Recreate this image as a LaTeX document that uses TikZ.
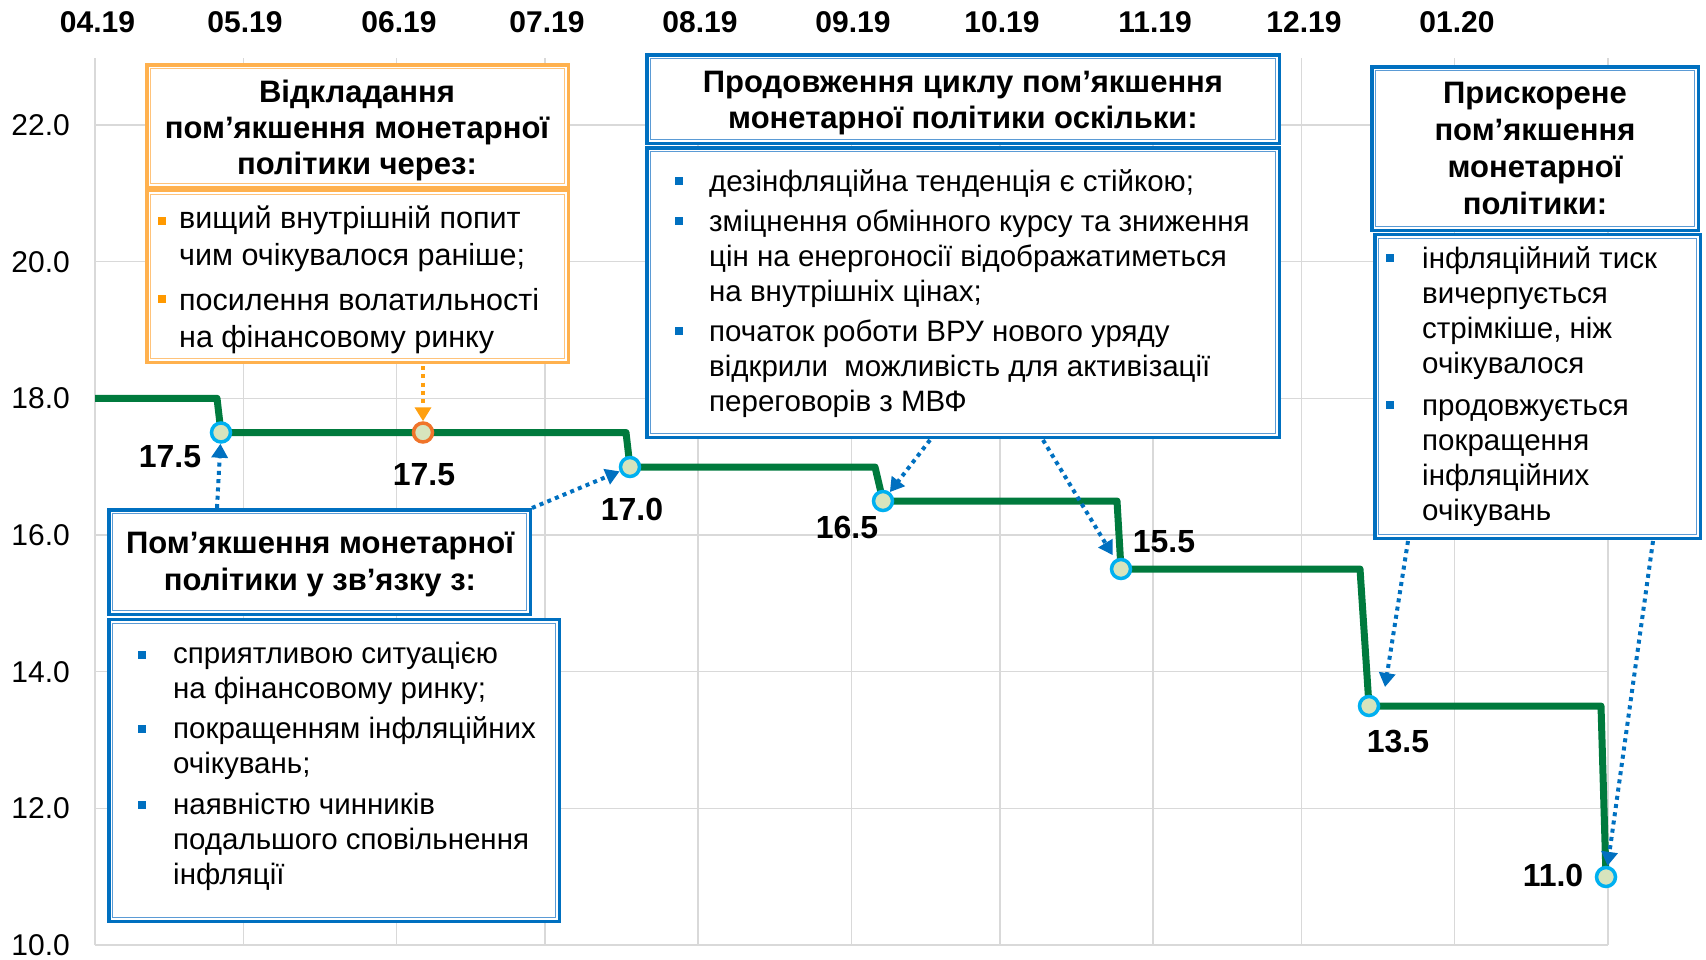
\documentclass[tikz,border=0pt]{standalone}
\usepackage{fontspec}
\setmainfont{Liberation Sans}
\usetikzlibrary{arrows.meta}
\definecolor{cGrid}{HTML}{D9D9D9}
\definecolor{cGreen}{HTML}{007A3D}
\definecolor{cCyan}{HTML}{00B0F0}
\definecolor{cDotFill}{HTML}{D7E4BD}
\definecolor{cBlue}{HTML}{0070C0}
\definecolor{cBlueIn}{HTML}{5B9BD5}
\definecolor{cOrange}{HTML}{FFB14E}
\definecolor{cOrangeIn}{HTML}{FFC37A}
\definecolor{cOrBullet}{HTML}{FF9900}
\definecolor{cOrArrow}{HTML}{FFA010}
\definecolor{cOrDot}{HTML}{F0742A}
\newcommand{\innerframe}[2]{\draw[#2] ([shift={(4bp,-4bp)}]#1.north west) rectangle ([shift={(-4bp,4bp)}]#1.south east);}
\newcommand{\fs}{\rule{0pt}{1em}}
\begin{document}
\begin{tikzpicture}[x=1bp,y=-1bp,
  gridline/.style={draw=cGrid, line width=1.5bp},
  ylab/.style={anchor=east, inner sep=0, font=\fontsize{30bp}{34bp}\selectfont},
  mlab/.style={inner sep=0, font=\bfseries\fontsize{30bp}{34bp}\selectfont},
  vlab/.style={inner sep=0, font=\bfseries\fontsize{32bp}{36bp}\selectfont},
  rate/.style={draw=cGreen, line width=7bp, line join=round},
  dot/.style={circle, draw=#1, line width=3.5bp, fill=cDotFill, minimum size=19bp, inner sep=0},
  bbox/.style={draw=cBlue, line width=3.5bp, fill=white, inner sep=0, outer sep=0, anchor=north west},
  obox/.style={draw=cOrange, line width=3.5bp, fill=white, inner sep=0, outer sep=0, anchor=north west},
  binner/.style={draw=cBlueIn, line width=1.2bp},
  oinner/.style={draw=cOrangeIn, line width=1.2bp},
  hdr/.style={anchor=north, inner sep=0, align=center, font=\bfseries\fontsize{31bp}{36bp}\selectfont},
  body/.style={anchor=north west, inner sep=0, align=left, font=\fontsize{29.5bp}{35bp}\selectfont},
  bsq/.style={fill=#1, minimum size=8bp, inner sep=0},
  darrow/.style={draw=#1, line width=4bp, dash pattern=on 4bp off 4.3bp, -{Triangle[length=14bp,width=16bp]}}
]
\useasboundingbox (0,0) rectangle (1706,959);
% grid
\foreach \gx in {95,243.3,396.6,544.9,698.2,851.4,999.8,1153.0,1301.4,1454.6,1607.9}
  \draw[gridline] (\gx,58) -- (\gx,945);
\foreach \gy in {945,808.3,671.7,535,398.3,261.7,125}
  \draw[gridline] (95,\gy) -- (1608,\gy);
% axis labels
\node[ylab] (y10) at (70,945) {10.0};
\node[ylab] (y12) at (70,808.3) {12.0};
\node[ylab] (y14) at (70,671.7) {14.0};
\node[ylab] (y16) at (70,535) {16.0};
\node[ylab] (y18) at (70,398.3) {18.0};
\node[ylab] (y20) at (70,261.7) {20.0};
\node[ylab] (y22) at (70,125) {22.0};
\node[mlab] (m1) at (97.5,22.5) {04.19};
\node[mlab] (m2) at (245,22.5) {05.19};
\node[mlab] (m3) at (399,22.5) {06.19};
\node[mlab] (m4) at (547,22.5) {07.19};
\node[mlab] (m5) at (700,22.5) {08.19};
\node[mlab] (m6) at (853,22.5) {09.19};
\node[mlab] (m7) at (1002,22.5) {10.19};
\node[mlab] (m8) at (1155,22.5) {11.19};
\node[mlab] (m9) at (1304,22.5) {12.19};
\node[mlab] (m10) at (1457,22.5) {01.20};
% rate line
\draw[rate] (95,398.3) -- (217,398.3) -- (221,432.5) -- (626,432.5) -- (630,467) -- (875,467) -- (883,501) -- (1117,501) -- (1121,569) -- (1360,569) -- (1369,706) -- (1601,706) -- (1606,877);
\node[dot=cCyan] (d1) at (221,432.5) {};
\node[dot=cOrDot] (d2) at (423,432.5) {};
\node[dot=cCyan] (d3) at (630,467) {};
\node[dot=cCyan] (d4) at (883,501) {};
\node[dot=cCyan] (d5) at (1121,569) {};
\node[dot=cCyan] (d6) at (1369,706) {};
\node[dot=cCyan] (d7) at (1606,877) {};
\node[vlab] (v1) at (170,457) {17.5};
\node[vlab] (v2) at (424,475) {17.5};
\node[vlab] (v3) at (632,509) {17.0};
\node[vlab] (v4) at (847,527) {16.5};
\node[vlab] (v5) at (1164,542) {15.5};
\node[vlab] (v6) at (1398,741) {13.5};
\node[vlab] (v7) at (1553,875) {11.0};
% boxes
\node[obox, minimum width=421.5bp, minimum height=122.5bp] (b1h) at (146.75,64.75) {};
\node[obox, minimum width=421.5bp, minimum height=172bp] (b1b) at (146.75,190.5) {};
\innerframe{b1h}{oinner}
\innerframe{b1b}{oinner}
\node[bbox, minimum width=632.5bp, minimum height=88.5bp] (b2h) at (646.75,54.75) {};
\node[bbox, minimum width=632.5bp, minimum height=289.5bp] (b2b) at (646.75,147.75) {};
\innerframe{b2h}{binner}
\innerframe{b2b}{binner}
\node[bbox, minimum width=326.5bp, minimum height=163.5bp] (b3h) at (1371.75,66.75) {};
\node[bbox, minimum width=325.5bp, minimum height=304bp] (b3b) at (1374.75,234.25) {};
\innerframe{b3h}{binner}
\innerframe{b3b}{binner}
\node[bbox, minimum width=421.5bp, minimum height=104.5bp] (b4h) at (108.75,509.75) {};
\node[bbox, minimum width=450.5bp, minimum height=302bp] (b4b) at (108.75,619.25) {};
\innerframe{b4h}{binner}
\innerframe{b4b}{binner}
% box 1 text
\node[hdr] (t1h) at (357,71) {\fs Відкладання\\пом’якшення монетарної\\політики через:};
\node[body, font=\fontsize{30.5bp}{37bp}\selectfont] (t1a) at (179,197.5) {\fs вищий внутрішній попит\\чим очікувалося раніше;};
\node[body, font=\fontsize{30.5bp}{37bp}\selectfont] (t1b) at (179,279.5) {\fs посилення волатильності\\на фінансовому ринку};
\node[bsq=cOrBullet] (u1a) at (162,221) {};
\node[bsq=cOrBullet] (u1b) at (162,299) {};
% box 2 text
\node[hdr] (t2h) at (963,61) {\fs Продовження циклу пом’якшення\\монетарної політики оскільки:};
\node[body] (t2a) at (709,161.5) {\fs дезінфляційна тенденція є стійкою;};
\node[body] (t2b) at (709,201.5) {\fs зміцнення обмінного курсу та зниження\\цін на енергоносії відображатиметься\\на внутрішніх цінах;};
\node[body] (t2c) at (709,311.5) {\fs початок роботи ВРУ нового уряду\\відкрили\ \ можливість для активізації\\переговорів з МВФ};
\node[bsq=cBlue] (u2a) at (679,181) {};
\node[bsq=cBlue] (u2b) at (679,221) {};
\node[bsq=cBlue] (u2c) at (679,331) {};
% box 3 text
\node[hdr, font=\bfseries\fontsize{31bp}{37bp}\selectfont] (t3h) at (1535,72) {\fs Прискорене\\пом’якшення\\монетарної\\політики:};
\node[body] (t3a) at (1422,238.5) {\fs інфляційний тиск\\вичерпується\\стрімкіше, ніж\\очікувалося};
\node[body] (t3b) at (1422,385.5) {\fs продовжується\\покращення\\інфляційних\\очікувань};
\node[bsq=cBlue] (u3a) at (1390,258) {};
\node[bsq=cBlue] (u3b) at (1390,405) {};
% box 4 text
\node[hdr, font=\bfseries\fontsize{31bp}{37bp}\selectfont] (t4h) at (320,522) {\fs Пом’якшення монетарної\\політики у зв’язку з:};
\node[body] (t4a) at (173,633.5) {\fs сприятливою ситуацією\\на фінансовому ринку;};
\node[body] (t4b) at (173,708.5) {\fs покращенням інфляційних\\очікувань;};
\node[body] (t4c) at (173,784.5) {\fs наявністю чинників\\подальшого сповільнення\\інфляції};
\node[bsq=cBlue] (u4a) at (141.5,655) {};
\node[bsq=cBlue] (u4b) at (141.5,729) {};
\node[bsq=cBlue] (u4c) at (141.5,805) {};
% arrows
\coordinate (a1s) at (217,508);
\coordinate (a2s) at (532,508);
\coordinate (a3s) at (423,366);
\coordinate (a4s) at (930,440);
\coordinate (a5s) at (1043,440);
\coordinate (a6s) at (1408,541);
\coordinate (a6e) at (1385,687);
\coordinate (a7s) at (1653,541);
\draw[darrow=cBlue] (a1s) -- (d1);
\draw[darrow=cBlue] (a2s) -- (d3);
\draw[darrow=cOrArrow] (a3s) -- (d2);
\draw[darrow=cBlue] (a4s) -- (d4);
\draw[darrow=cBlue, shorten >=5bp] (a5s) -- (d5);
\draw[darrow=cBlue] (a6s) -- (a6e);
\draw[darrow=cBlue] (a7s) -- (d7);
\end{tikzpicture}
\end{document}
